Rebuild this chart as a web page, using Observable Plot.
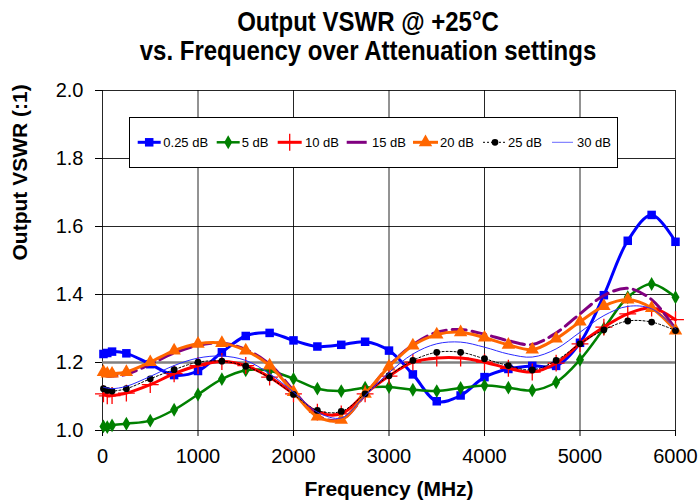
<!DOCTYPE html>
<html><head><meta charset="utf-8">
<script src="https://cdn.jsdelivr.net/npm/d3@7"></script>
<script src="https://cdn.jsdelivr.net/npm/@observablehq/plot@0.6"></script>
<style>
body{margin:0;background:#fff;}
#wrap{position:relative;width:699px;height:504px;overflow:hidden;font-family:"Liberation Sans",Arial,sans-serif;background:#fff;}
.t{position:absolute;left:0;width:736px;text-align:center;font-weight:bold;font-size:24px;line-height:1;white-space:nowrap;color:#000;transform:scaleY(1.12);transform-origin:50% 100%;}
#chart{position:absolute;left:0;top:70px;}
#legend{position:absolute;left:129px;top:117px;}
</style></head><body>
<div id="wrap">
<div class="t" style="top:11px">Output VSWR @ +25°C</div>
<div class="t" style="top:40px">vs. Frequency over Attenuation settings</div>
<div id="chart"></div>
<svg id="legend" width="490" height="52"></svg>
</div>
<script>
const freq = [10,50,100,250,500,750,1000,1250,1500,1750,2000,2250,2500,2750,3000,3250,3500,3750,4000,4250,4500,4750,5000,5250,5500,5750,6000];
const db025 = [1.225,1.228,1.232,1.227,1.195,1.163,1.175,1.230,1.278,1.287,1.265,1.247,1.252,1.261,1.235,1.165,1.086,1.103,1.157,1.181,1.190,1.190,1.258,1.398,1.558,1.634,1.555];
const db5 = [1.012,1.010,1.015,1.020,1.029,1.061,1.106,1.151,1.177,1.176,1.152,1.123,1.116,1.126,1.128,1.120,1.116,1.125,1.132,1.126,1.118,1.142,1.208,1.300,1.392,1.431,1.392];
const db10 = [1.108,1.102,1.103,1.110,1.135,1.167,1.191,1.203,1.191,1.157,1.108,1.054,1.049,1.108,1.160,1.201,1.213,1.213,1.201,1.183,1.172,1.198,1.255,1.304,1.343,1.360,1.326];
const db15 = [1.165,1.160,1.160,1.165,1.195,1.228,1.250,1.257,1.238,1.195,1.118,1.043,1.032,1.105,1.190,1.252,1.289,1.297,1.283,1.264,1.253,1.287,1.343,1.397,1.418,1.385,1.298];
const db20 = [1.172,1.167,1.167,1.172,1.201,1.235,1.255,1.257,1.235,1.191,1.113,1.041,1.031,1.108,1.188,1.250,1.282,1.289,1.273,1.252,1.238,1.270,1.320,1.366,1.385,1.360,1.294];
const db25 = [1.123,1.118,1.116,1.123,1.152,1.179,1.201,1.204,1.189,1.155,1.106,1.059,1.056,1.108,1.161,1.206,1.230,1.230,1.211,1.191,1.178,1.206,1.255,1.296,1.322,1.319,1.294];
const db30 = [1.127,1.125,1.123,1.130,1.159,1.191,1.213,1.219,1.206,1.167,1.113,1.054,1.037,1.103,1.170,1.225,1.255,1.260,1.245,1.225,1.216,1.240,1.289,1.338,1.365,1.358,1.299];
const seriesNames = ["0.25 dB","5 dB","10 dB","15 dB","20 dB","25 dB","30 dB"];
const xTicks = [0,1000,2000,3000,4000,5000,6000];
const yTicks = [1.0,1.2,1.4,1.6,1.8,2.0];
const specLine = [1.2];
const xLabel = "Frequency (MHz)";
const yLabel = "Output VSWR (:1)";

const seriesValues = [db025, db5, db10, db15, db20, db25, db30];
const styles = [
  {stroke:"#0000ff", width:3, symbol:"square", r:4.8, fill:"#0000ff"},
  {stroke:"#008000", width:2.5, symbol:"diamond", r:4.2, fill:"#008000"},
  {stroke:"#ff0000", width:3, symbol:"plus", r:5.5, markStroke:"#ff0000", markWidth:1.3},
  {stroke:"#800080", width:3, dash:"14,6", symbol:null},
  {stroke:"#ff6600", width:3, symbol:"triangle", r:5, fill:"#ff6600"},
  {stroke:"#000000", width:1, dash:"2,2", symbol:"circle", r:3.4, fill:"#000000"},
  {stroke:"#2a2aff", width:1, symbol:null, legendStroke:"#6a6aff"}
];

const marks = [
  Plot.ruleX(xTicks, {stroke:"#000", strokeOpacity:0.85, strokeWidth:1}),
  Plot.ruleY(yTicks, {stroke:"#000", strokeOpacity:0.85, strokeWidth:1}),
  Plot.ruleY(specLine, {stroke:"#808080", strokeWidth:2.5}),
  Plot.axisX({ticks:xTicks, tickSize:6, tickPadding:12, tickFormat:d=>String(d), label:null, fontSize:20}),
  Plot.axisY({ticks:yTicks, tickSize:7, tickPadding:12, tickFormat:d3.format(".1f"), label:null, fontSize:20})
];
seriesNames.forEach((name, k) => {
  const st = styles[k];
  const rows = freq.map((f, i) => ({f, v: seriesValues[k][i], name}));
  marks.push(Plot.line(rows, {x:"f", y:"v", stroke:st.stroke, strokeWidth:st.width, strokeDasharray:st.dash, curve:"catmull-rom"}));
  if (st.symbol) {
    if (st.fill) marks.push(Plot.dot(rows, {x:"f", y:"v", symbol:st.symbol, r:st.r, fill:st.fill, stroke:"none"}));
    else marks.push(Plot.dot(rows, {x:"f", y:"v", symbol:st.symbol, r:st.r, fill:"none", stroke:st.markStroke, strokeWidth:st.markWidth}));
  }
});
marks.push(Plot.text([xLabel], {text:d=>d, frameAnchor:"bottom", dy:59, fontWeight:"bold", fontSize:21, lineAnchor:"middle"}));
marks.push(Plot.text([yLabel], {text:d=>d, frameAnchor:"left", dx:-82, rotate:-90, fontWeight:"bold", fontSize:21, lineAnchor:"middle"}));

const chart = Plot.plot({
  width:699, height:434, marginTop:20, marginBottom:74, marginLeft:102, marginRight:24,
  x:{domain:[0,6000]},
  y:{domain:[1,2]},
  style:{fontFamily:"'Liberation Sans', Arial, sans-serif", fontSize:"20px", color:"#000", background:"transparent", overflow:"visible"},
  marks
});
document.getElementById("chart").appendChild(chart);

// legend
const leg = d3.select("#legend");
leg.append("rect").attr("x",0.5).attr("y",0.5).attr("width",488).attr("height",50).attr("fill","#fff").attr("stroke","#000").attr("stroke-width",1);
const swX = [8.7, 87.7, 148.7, 217.7, 284, 354, 423];
const swL = [23, 23, 24, 20, 25, 24, 21];
const txX = [34.3, 112.7, 176, 243, 311, 379, 448];
const cy = 25.3;
const symMap = {square:d3.symbolSquare, diamond:d3.symbolDiamond, plus:d3.symbolPlus, triangle:d3.symbolTriangle, circle:d3.symbolCircle};
seriesNames.forEach((name, k) => {
  const st = styles[k];
  leg.append("line").attr("x1",swX[k]).attr("x2",swX[k]+swL[k]).attr("y1",cy).attr("y2",cy)
    .attr("stroke", st.legendStroke || st.stroke).attr("stroke-width", st.width)
    .attr("stroke-dasharray", st.dash && st.width < 2 ? st.dash : null);
  if (st.symbol) {
    const p = d3.symbol(symMap[st.symbol], st.r*st.r*Math.PI)();
    const g = leg.append("path").attr("d", p).attr("transform", `translate(${swX[k]+swL[k]/2},${cy})`);
    if (st.fill) g.attr("fill", st.fill); else g.attr("fill","none").attr("stroke", st.markStroke).attr("stroke-width", st.markWidth);
  }
  leg.append("text").attr("x", txX[k]).attr("y", cy).attr("dy","0.35em").attr("font-size",13)
    .attr("font-family","'Liberation Sans', Arial, sans-serif").text(name);
});
</script>
</body></html>
